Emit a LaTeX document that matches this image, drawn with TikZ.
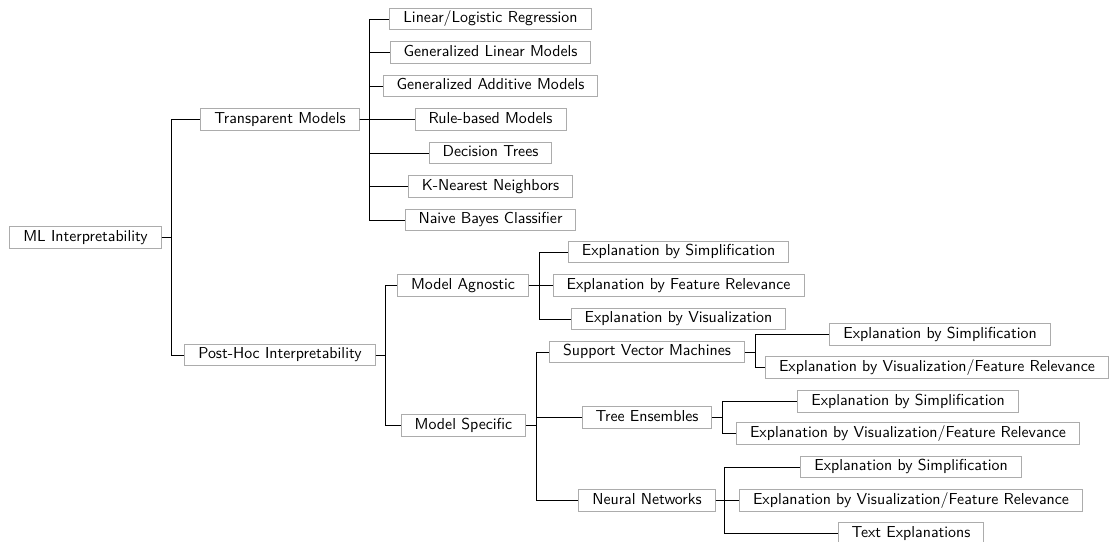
\documentclass[tikz,border=0pt]{standalone}
\usetikzlibrary{calc}
\begin{document}
\begin{tikzpicture}[x=0.63pt,y=-0.63pt,
  box/.style={draw=gray!65, line width=0.6pt, font=\sffamily\fontsize{10}{12}\selectfont,
    inner xsep=8.5pt, inner ysep=2.2pt, text height=7pt, text depth=2pt},
  link/.style={draw=black, line width=0.6pt}]
\useasboundingbox (0,0) rectangle (1110,541);
% level 0
\node[box] (ml) at (85.5,237.5) {ML Interpretability};
% level 1
\node[box] (tm) at (280,119.5) {Transparent Models};
\node[box] (ph) at (280,355) {Post-Hoc Interpretability};
% transparent children
\node[box] (t1) at (490.5,19) {Linear/Logistic Regression};
\node[box] (t2) at (490.5,52.5) {Generalized Linear Models};
\node[box] (t3) at (490.5,86) {Generalized Additive Models};
\node[box] (t4) at (490.5,119.5) {Rule-based Models};
\node[box] (t5) at (490.5,153) {Decision Trees};
\node[box] (t6) at (490.5,186.5) {K-Nearest Neighbors};
\node[box] (t7) at (490.5,220) {Naive Bayes Classifier};
% post-hoc children
\node[box] (ma) at (463,285.5) {Model Agnostic};
\node[box] (ms) at (463.5,425.5) {Model Specific};
% model agnostic children
\node[box] (a1) at (678.5,252) {Explanation by Simplification};
\node[box] (a2) at (678.5,285.5) {Explanation by Feature Relevance};
\node[box] (a3) at (678.5,319) {Explanation by Visualization};
% model specific children
\node[box] (svm) at (647,352) {Support Vector Machines};
\node[box] (te) at (647,417.5) {Tree Ensembles};
\node[box] (nn) at (647,500.5) {Neural Networks};
% svm children
\node[box] (s1) at (940,334.5) {Explanation by Simplification};
\node[box] (s2) at (937,367.5) {Explanation by Visualization/Feature Relevance};
% tree ensemble children
\node[box] (e1) at (908,401.5) {Explanation by Simplification};
\node[box] (e2) at (908,433.5) {Explanation by Visualization/Feature Relevance};
% neural network children
\node[box] (n1) at (911,467) {Explanation by Simplification};
\node[box] (n2) at (911,500.5) {Explanation by Visualization/Feature Relevance};
\node[box] (n3) at (911,533.5) {Text Explanations};
% bus coordinates
\coordinate (bml) at (171,0);
\coordinate (btm) at (369,0);
\coordinate (bph) at (385,0);
\coordinate (bma) at (539,0);
\coordinate (bms) at (536,0);
\coordinate (bsvm) at (755,0);
\coordinate (bte) at (722,0);
\coordinate (bnn) at (724,0);
% connectors
\foreach \c in {tm,ph} \draw[link] (ml.east) -- (ml.east -| bml) |- (\c.west);
\foreach \c in {t1,t2,t3,t4,t5,t6,t7} \draw[link] (tm.east) -- (tm.east -| btm) |- (\c.west);
\foreach \c in {ma,ms} \draw[link] (ph.east) -- (ph.east -| bph) |- (\c.west);
\foreach \c in {a1,a2,a3} \draw[link] (ma.east) -- (ma.east -| bma) |- (\c.west);
\foreach \c in {svm,te,nn} \draw[link] (ms.east) -- (ms.east -| bms) |- (\c.west);
\foreach \c in {s1,s2} \draw[link] (svm.east) -- (svm.east -| bsvm) |- (\c.west);
\foreach \c in {e1,e2} \draw[link] (te.east) -- (te.east -| bte) |- (\c.west);
\foreach \c in {n1,n2,n3} \draw[link] (nn.east) -- (nn.east -| bnn) |- (\c.west);
\end{tikzpicture}
\end{document}
